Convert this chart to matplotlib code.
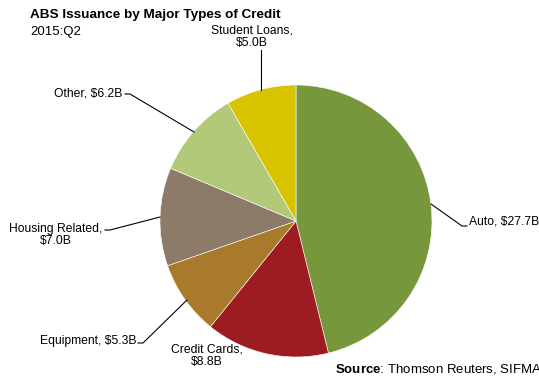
import matplotlib.pyplot as plt

plt.rcParams['font.family'] = ['Liberation Sans', 'DejaVu Sans']
plt.rcParams['mathtext.fontset'] = 'custom'
plt.rcParams['mathtext.rm'] = 'Liberation Sans'
plt.rcParams['mathtext.bf'] = 'Liberation Sans:bold'

# ABS issuance, 2015:Q2 ($ billions)
categories = ['Auto', 'Credit Cards', 'Equipment', 'Housing Related', 'Other', 'Student Loans']
values = [27.7, 8.8, 5.3, 7.0, 6.2, 5.0]
colors = ['#77973D', '#9D1C21', '#A97A2B', '#8C7B68', '#B1C979', '#D8C300']

W, H = 539, 378
fig = plt.figure(figsize=(W / 100, H / 100), dpi=100)
ax = fig.add_axes([0, 0, 1, 1])

cx, cy, r = 296, H - 221, 136
ax.pie(values, colors=colors, startangle=90, counterclock=False,
       center=(cx, cy), radius=r, frame=True,
       wedgeprops=dict(edgecolor='white', linewidth=0.4))
ax.set_xlim(0, W)
ax.set_ylim(0, H)
ax.set_aspect('equal')
ax.axis('off')

lbl = {c: f'{c}, ${v:.1f}B' for c, v in zip(categories, values)}
fs = 8.7

def y(p):
    return H - p

# Auto
ax.text(469, y(222), lbl['Auto'], fontsize=fs, va='center', ha='left')
ax.plot([431, 462, 467], [y(204), y(226), y(226)], color='black', lw=0.8)

# Credit Cards
ax.text(207, y(356), 'Credit Cards,\n$8.8B', fontsize=fs, va='center', ha='center',
        linespacing=1.1)

# Equipment
ax.text(136, y(341), lbl['Equipment'], fontsize=fs, va='center', ha='right')
ax.plot([138, 143, 187], [y(343), y(343), y(300)], color='black', lw=0.8)

# Housing Related
ax.text(56, y(235), 'Housing Related,\n$7.0B', fontsize=fs, va='center', ha='center',
        linespacing=1.1)
ax.plot([105, 110, 160], [y(230), y(230), y(217)], color='black', lw=0.8)

# Other
ax.text(122, y(93), lbl['Other'], fontsize=fs, va='center', ha='right')
ax.plot([125, 130, 194], [y(94), y(94), y(132)], color='black', lw=0.8)

# Student Loans
ax.text(252, y(37), 'Student Loans,\n$5.0B', fontsize=fs, va='center', ha='center',
        linespacing=1.1)
ax.plot([261, 261], [y(50), y(90)], color='black', lw=0.8)

fig.text(30 / W, 1 - 15 / H, 'ABS Issuance by Major Types of Credit',
         fontsize=9.7, fontweight='bold', va='center', ha='left')
fig.text(30 / W, 1 - 32 / H, '2015:Q2', fontsize=9.5, va='center', ha='left')
fig.text(335 / W, 1 - 369 / H, r'$\mathbf{Source}$: Thomson Reuters, SIFMA',
         fontsize=9.5, va='center', ha='left')

fig.savefig('out.png', dpi=100)
